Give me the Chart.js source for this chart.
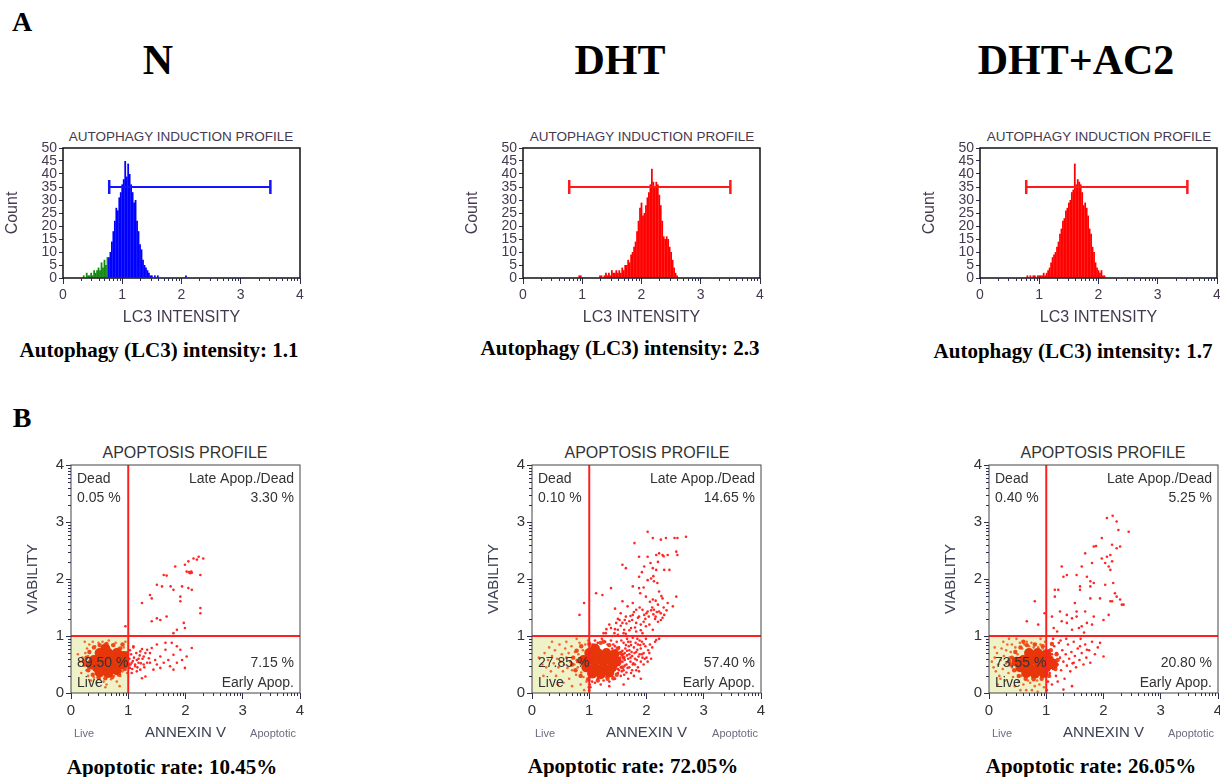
<!DOCTYPE html>
<html>
<head>
<meta charset="utf-8">
<script src="https://cdn.jsdelivr.net/npm/chart.js@4.4.1/dist/chart.umd.min.js"></script>
<style>
  body { margin: 0; background: #fff; width: 1220px; height: 777px; position: relative; overflow: hidden; }
  canvas { position: absolute; }
  .t { position: absolute; transform: translate(-50%, -50%); line-height: 1; white-space: nowrap; }
  .serif { font-family: "Liberation Serif", "Times New Roman", serif; font-weight: bold; color: #000; }
  .sans { font-family: "Liberation Sans", Arial, sans-serif; }
  .htitle { font-size: 13.5px; color: #45394f; }
  .stitle { font-size: 16px; color: #333; }
  .small { font-size: 11px; color: #6b6b80; }
  .cap { font-size: 21px; }
</style>
</head>
<body>
<div class="t serif" style="left:22px;top:22px;font-size:28px">A</div>
<div class="t serif" style="left:22px;top:418px;font-size:28px">B</div>
<div class="t serif" style="left:158px;top:60px;font-size:42px">N</div>
<div class="t serif" style="left:620px;top:60px;font-size:42px">DHT</div>
<div class="t serif" style="left:1076px;top:60px;font-size:42px">DHT+AC2</div>

<div class="t sans htitle" style="left:181px;top:137px">AUTOPHAGY INDUCTION PROFILE</div>
<div class="t sans htitle" style="left:642px;top:137px">AUTOPHAGY INDUCTION PROFILE</div>
<div class="t sans htitle" style="left:1099px;top:137px">AUTOPHAGY INDUCTION PROFILE</div>

<canvas id="histN" width="305" height="188" style="left:3px;top:140px"></canvas>
<canvas id="histDHT" width="305" height="188" style="left:463px;top:140px"></canvas>
<canvas id="histAC2" width="305" height="188" style="left:920px;top:140px"></canvas>

<div class="t serif cap" id="capHistN" style="left:159px;top:350px"></div>
<div class="t serif cap" id="capHistDHT" style="left:620px;top:348px"></div>
<div class="t serif cap" id="capHistAC2" style="left:1073px;top:351px"></div>

<div class="t sans stitle" style="left:185px;top:453px">APOPTOSIS PROFILE</div>
<div class="t sans stitle" style="left:647px;top:453px">APOPTOSIS PROFILE</div>
<div class="t sans stitle" style="left:1103px;top:453px">APOPTOSIS PROFILE</div>

<canvas id="scatN" width="284" height="288" style="left:24px;top:455px"></canvas>
<canvas id="scatDHT" width="284" height="288" style="left:485px;top:455px"></canvas>
<canvas id="scatAC2" width="284" height="288" style="left:942px;top:455px"></canvas>

<div class="t sans small" style="left:84px;top:733px">Live</div>
<div class="t sans small" style="left:273px;top:733px">Apoptotic</div>
<div class="t sans small" style="left:545px;top:733px">Live</div>
<div class="t sans small" style="left:735px;top:733px">Apoptotic</div>
<div class="t sans small" style="left:1002px;top:733px">Live</div>
<div class="t sans small" style="left:1191px;top:733px">Apoptotic</div>

<div class="t serif cap" id="capScatN" style="left:172px;top:767px"></div>
<div class="t serif cap" id="capScatDHT" style="left:633px;top:766px"></div>
<div class="t serif cap" id="capScatAC2" style="left:1091px;top:766px"></div>

<script>
const sans = "'Liberation Sans', Arial, sans-serif"
const histText = "#45394f"
const scatText = "#333333"
const tickColor = "#2b2f55"

// LC3 histograms, counts per 0.025 bin of intensity (log decades)
const binWidth = 0.025
const nGreenStart = 0.35
const nGreenCounts = [1, 0, 2, 1, 1, 2, 1, 3, 2, 3, 4, 3, 6, 4, 7, 5, 8]
const nBlueStart = 0.775
const nBlueCounts = [8, 10, 14, 18, 22, 27, 26, 31, 33, 36, 38, 45, 39, 44, 40, 36, 33, 29, 30, 22, 18, 13, 11, 7, 5, 4, 3, 2, 1, 1, 0, 1, 0, 1,
  0, 0, 0, 0, 0, 0, 0, 0, 0, 0, 0, 0, 0, 0, 0, 0, 0, 0, 1]
const dhtStart = 0.95
const dhtCounts = [1, 1, 0, 0, 0, 0, 0, 0, 0, 0, 0, 0, 0, 0,
  1, 1, 0, 1, 2, 1, 2, 1, 3, 2, 2, 3, 2, 3, 2, 4, 3, 5, 5, 7, 6, 9, 10, 12, 14, 18, 22, 27, 29, 24, 25, 28, 31, 33, 36, 42,
  37, 35, 37, 36, 32, 28, 22, 16, 15, 16, 15, 12, 10, 7, 4, 2, 1]
const ac2Start = 0.8
const ac2Counts = [1, 0, 1, 0, 1, 1, 0, 1, 1, 1, 1, 2, 1, 2, 3, 4, 6, 8, 9, 10, 12, 14, 17, 19, 22, 23, 26, 27, 29, 30, 33, 34, 44,
  36, 38, 37, 36, 33, 28, 29, 27, 24, 19, 17, 12, 10, 6, 4, 3, 2, 3, 1, 1]

// positive-region marker
const markerRange = [0.78, 3.5]
const markerLevel = 35
const lc3Intensity = { N: 1.1, DHT: 2.3, AC2: 1.7 }

// apoptosis quadrants: Dead, Late Apop./Dead, Live, Early Apop.
const quadrantGate = 1
const nPercents = [0.05, 3.30, 89.50, 7.15]
const dhtPercents = [0.10, 14.65, 27.85, 57.40]
const ac2Percents = [0.40, 5.25, 73.55, 20.80]

// events [annexin V, viability] (log decades)
const nCore = [[0.45, 0.45], [0.6, 0.45], [0.75, 0.45], [0.4, 0.58], [0.55, 0.58], [0.7, 0.58], [0.85, 0.58], [0.5, 0.7], [0.65, 0.7],
  [0.8, 0.7], [0.5, 0.36], [0.65, 0.35], [0.8, 0.4], [0.9, 0.5], [0.35, 0.5], [0.6, 0.78], [0.92, 0.65]]
const nRim = [[0.25, 0.5], [0.27, 0.62], [0.3, 0.4], [0.32, 0.72], [0.38, 0.32], [0.4, 0.8], [0.48, 0.27], [0.5, 0.84], [0.6, 0.26],
  [0.62, 0.86], [0.72, 0.28], [0.74, 0.84], [0.84, 0.32], [0.86, 0.78], [0.94, 0.42], [0.96, 0.58], [0.98, 0.7], [1.0, 0.5],
  [0.22, 0.56], [0.9, 0.85]]
const nLive = [[0.15, 0.55], [0.2, 0.62], [0.22, 0.48], [0.25, 0.7], [0.27, 0.4], [0.28, 0.78], [0.3, 0.3], [0.32, 0.85], [0.35, 0.22],
  [0.38, 0.9], [0.4, 0.27], [0.42, 0.82], [0.45, 0.18], [0.48, 0.88], [0.5, 0.25], [0.55, 0.9], [0.57, 0.2], [0.6, 0.85], [0.62, 0.15],
  [0.66, 0.92], [0.7, 0.24], [0.72, 0.84], [0.75, 0.3], [0.78, 0.88], [0.8, 0.2], [0.83, 0.78], [0.86, 0.3], [0.88, 0.72], [0.9, 0.38],
  [0.92, 0.8], [0.94, 0.62], [0.96, 0.45], [0.97, 0.7], [0.98, 0.35], [0.18, 0.35], [0.12, 0.68], [0.24, 0.9], [0.6, 0.1], [0.85, 0.12],
  [0.95, 0.9], [0.3, 0.65], [0.26, 0.55]]
const nApop = [[1.02, 0.6], [1.04, 0.5], [1.05, 0.68], [1.07, 0.42], [1.08, 0.56], [1.1, 0.62], [1.12, 0.5], [1.14, 0.7], [1.16, 0.45],
  [1.18, 0.6], [1.03, 0.75], [1.06, 0.35], [1.2, 0.66], [1.22, 0.52], [1.25, 0.6], [1.28, 0.45], [1.3, 0.7], [1.09, 0.8], [1.15, 0.38],
  [1.24, 0.77], [1.09, 0.82], [1.21, 0.73], [1.33, 0.76], [1.41, 0.79], [1.5, 0.85], [1.27, 0.64], [1.15, 0.58], [1.06, 0.53],
  [1.12, 0.47], [1.21, 0.41], [1.3, 0.29], [1.38, 0.53], [1.47, 0.58], [1.56, 0.64], [1.62, 0.53], [1.7, 0.58], [1.79, 0.67],
  [1.73, 0.47], [1.85, 0.53], [1.94, 0.58], [2.02, 0.64], [2.11, 0.79], [1.91, 0.76], [1.99, 0.44], [1.65, 0.88], [1.76, 0.88],
  [1.44, 0.41], [1.33, 0.53], [1.18, 0.53], [1.03, 0.44], [1.36, 0.61], [1.24, 0.26], [1.56, 0.44], [1.5, 0.5], [1.38, 0.7],
  [1.79, 0.41], [1.65, 0.76], [1.85, 0.82], [1.27, 0.5],
  [2.14, 2.36], [2.23, 2.39], [2.31, 2.36], [2.2, 2.34], [2.05, 2.31], [1.99, 2.25], [1.82, 2.22], [2.02, 2.13], [2.08, 2.1],
  [2.11, 2.11], [2.06, 2.12], [2.1, 2.13], [2.26, 2.07], [1.62, 2.07], [1.67, 2.06], [1.5, 1.9], [1.59, 1.87], [1.74, 1.87],
  [1.79, 1.81], [1.94, 1.87], [2.05, 1.84], [2.11, 1.81], [1.38, 1.72], [1.41, 1.66], [1.91, 1.69], [1.24, 1.58], [1.91, 1.61],
  [2.26, 1.49], [2.26, 1.4], [1.5, 1.31], [1.56, 1.28], [1.67, 1.34], [1.41, 1.26], [1.97, 1.23], [1.99, 1.14], [1.79, 1.05],
  [1.85, 1.11], [0.95, 1.17]]

const dhtCore = [[0.95, 0.45], [1.1, 0.45], [1.25, 0.45], [1.4, 0.45], [0.9, 0.58], [1.05, 0.58], [1.2, 0.58], [1.35, 0.58], [1.0, 0.7],
  [1.15, 0.7], [1.3, 0.7], [1.05, 0.34], [1.2, 0.33], [1.35, 0.36], [1.48, 0.55], [1.44, 0.68], [1.1, 0.78]]
const dhtRim = [[0.7, 0.5], [0.72, 0.62], [0.76, 0.4], [0.78, 0.74], [0.85, 0.3], [0.86, 0.82], [0.98, 0.24], [1.0, 0.86], [1.15, 0.22],
  [1.2, 0.88], [1.32, 0.25], [1.35, 0.84], [1.48, 0.32], [1.5, 0.78], [1.58, 0.45], [1.6, 0.62], [1.25, 0.9], [0.8, 0.56], [1.55, 0.7],
  [1.42, 0.26]]
const dhtLive = [[0.12, 0.62], [0.18, 0.5], [0.22, 0.7], [0.25, 0.45], [0.28, 0.58], [0.3, 0.8], [0.33, 0.38], [0.35, 0.65], [0.38, 0.52],
  [0.4, 0.75], [0.42, 0.3], [0.44, 0.6], [0.46, 0.45], [0.48, 0.85], [0.5, 0.55], [0.52, 0.68], [0.54, 0.38], [0.56, 0.5], [0.58, 0.78],
  [0.6, 0.62], [0.62, 0.44], [0.64, 0.7], [0.65, 0.25], [0.67, 0.55], [0.69, 0.82], [0.7, 0.4], [0.72, 0.62], [0.74, 0.5], [0.75, 0.72],
  [0.77, 0.32], [0.78, 0.58], [0.8, 0.45], [0.81, 0.68], [0.83, 0.88], [0.84, 0.52], [0.86, 0.36], [0.87, 0.62], [0.89, 0.75],
  [0.9, 0.28], [0.92, 0.48], [0.93, 0.85], [0.95, 0.2], [0.96, 0.65], [0.97, 0.4], [0.98, 0.92], [0.55, 0.18], [0.7, 0.12],
  [0.85, 0.15], [0.45, 0.15], [0.6, 0.9], [0.35, 0.9], [0.2, 0.3], [0.78, 0.95], [0.91, 0.05], [0.99, 0.1]]
const dhtApop = [[1.0, 0.05], [1.01, 0.15], [1.0, 0.22],
  [1.02, 0.1], [1.05, 0.2], [1.1, 0.18], [1.15, 0.25], [1.2, 0.15], [1.25, 0.22], [1.3, 0.28], [1.35, 0.2], [1.4, 0.3], [1.45, 0.25],
  [1.5, 0.35], [1.55, 0.3], [1.6, 0.4], [1.65, 0.36], [1.7, 0.45], [1.75, 0.4], [1.8, 0.5], [1.85, 0.45], [1.9, 0.55], [1.95, 0.5],
  [2.0, 0.62], [2.05, 0.7], [1.55, 0.45], [1.58, 0.55], [1.6, 0.62], [1.62, 0.7], [1.65, 0.5], [1.68, 0.6], [1.7, 0.75], [1.72, 0.55],
  [1.75, 0.65], [1.78, 0.8], [1.8, 0.6], [1.82, 0.72], [1.85, 0.85], [1.88, 0.68], [1.9, 0.78], [1.92, 0.9], [1.95, 0.7], [1.98, 0.82],
  [1.52, 0.8], [1.55, 0.72], [1.48, 0.9], [1.42, 0.85], [1.38, 0.92], [1.6, 0.88], [1.66, 0.95], [1.72, 0.9], [1.76, 0.97], [1.84, 0.95],
  [1.5, 0.6], [1.53, 0.52], [1.57, 0.66], [1.63, 0.78], [1.46, 0.75], [1.44, 0.62], [1.32, 0.85], [1.28, 0.9], [1.22, 0.95], [1.15, 0.88],
  [1.1, 0.92], [1.06, 0.85], [2.02, 0.55], [2.08, 0.6], [1.87, 0.38], [1.78, 0.3], [1.68, 0.25], [1.35, 0.12], [1.6, 0.15], [1.9, 0.25],
  [2.1, 0.8], [2.15, 0.9], [2.22, 0.95], [1.99, 0.95],
  [1.52, 0.4], [1.57, 0.38], [1.62, 0.48], [1.67, 0.44], [1.72, 0.62], [1.77, 0.52], [1.83, 0.58], [1.86, 0.64], [1.93, 0.62],
  [1.66, 0.66], [1.7, 0.68], [1.74, 0.72], [1.79, 0.7], [1.84, 0.76], [1.89, 0.84], [1.95, 0.86], [1.58, 0.74], [1.64, 0.84],
  [1.69, 0.82], [1.73, 0.84], [1.81, 0.88], [1.88, 0.92], [1.54, 0.62], [1.59, 0.68], [1.47, 0.5], [1.5, 0.42], [1.61, 0.32],
  [1.73, 0.35], [1.82, 0.4], [1.97, 0.6], [2.03, 0.75], [1.45, 0.82], [1.4, 0.78], [1.56, 0.92], [1.68, 0.9], [1.76, 0.5],
  [1.92, 0.68], [2.06, 0.85], [1.62, 0.58], [1.66, 0.74],
  [2.02, 2.83], [2.11, 2.72], [2.25, 2.69], [2.34, 2.72], [2.49, 2.72], [2.54, 2.72], [2.69, 2.74], [1.79, 2.63], [1.87, 2.39],
  [2.02, 2.39], [2.17, 2.42], [2.22, 2.45], [2.28, 2.42], [2.37, 2.42], [2.52, 2.48], [2.54, 2.42], [1.58, 2.25], [1.64, 2.19],
  [1.96, 2.22], [2.11, 2.19], [2.17, 2.16], [2.31, 2.16], [2.4, 2.16], [1.87, 2.04], [2.08, 2.01], [2.13, 1.96], [2.19, 1.93],
  [1.38, 1.84], [1.12, 1.75], [1.23, 1.72], [1.76, 1.87], [1.87, 1.84], [1.89, 1.75], [2.22, 1.78], [1.99, 1.69], [2.11, 1.64],
  [2.28, 1.66], [2.37, 1.58], [2.52, 1.69], [2.46, 1.52], [1.58, 1.61], [1.67, 1.52], [1.76, 1.58], [1.82, 1.46], [1.93, 1.46],
  [2.02, 1.43], [2.13, 1.46], [2.22, 1.43], [2.31, 1.37], [2.16, 1.34], [2.25, 1.28], [2.04, 1.34], [1.96, 1.37], [1.87, 1.34],
  [1.76, 1.37], [1.64, 1.34], [1.53, 1.28], [1.47, 1.23], [1.58, 1.23], [1.7, 1.26], [1.82, 1.23], [1.9, 1.2], [1.99, 1.17],
  [2.11, 1.11], [1.38, 1.14], [1.5, 1.11], [1.61, 1.11], [1.73, 1.14], [1.82, 1.08], [1.93, 1.05], [1.29, 1.05], [1.44, 1.05],
  [1.64, 1.04], [2.17, 0.93], [0.91, 1.58], [0.83, 1.37],
  [1.4, 1.0], [1.45, 1.12], [1.5, 1.02], [1.55, 1.18], [1.6, 1.05], [1.65, 1.22], [1.7, 1.1], [1.75, 1.28], [1.8, 1.15], [1.85, 1.32],
  [1.9, 1.1], [1.95, 1.25], [2.0, 1.4], [2.05, 1.2], [2.1, 1.5], [2.15, 1.3], [2.2, 1.55], [2.25, 1.4], [2.3, 1.5], [2.35, 1.45],
  [2.18, 1.42], [2.08, 1.45], [2.12, 1.38], [2.28, 1.32], [2.2, 1.25], [1.98, 1.3], [1.88, 1.5], [1.78, 1.42], [1.72, 1.35],
  [1.62, 1.28], [1.55, 1.4], [1.5, 1.3], [1.45, 1.48], [1.35, 1.2], [1.3, 1.12], [1.25, 1.05], [2.06, 1.6], [2.16, 1.62], [2.26, 1.7],
  [1.95, 1.85], [2.02, 1.98], [2.12, 2.05], [2.2, 2.3], [2.3, 2.4], [2.07, 2.28], [1.92, 2.12]]

const ac2Core = [[0.55, 0.45], [0.7, 0.45], [0.85, 0.45], [1.0, 0.45], [0.6, 0.58], [0.75, 0.58], [0.9, 0.58], [1.05, 0.58], [0.7, 0.7],
  [0.85, 0.7], [1.0, 0.68], [0.65, 0.35], [0.8, 0.34], [0.95, 0.35], [1.12, 0.5], [0.48, 0.55]]
const ac2Rim = [[0.38, 0.5], [0.4, 0.62], [0.44, 0.4], [0.46, 0.72], [0.52, 0.3], [0.55, 0.8], [0.64, 0.25], [0.66, 0.84], [0.78, 0.24],
  [0.8, 0.85], [0.92, 0.25], [0.94, 0.82], [1.05, 0.3], [1.08, 0.75], [1.16, 0.42], [1.2, 0.58], [1.18, 0.68], [0.35, 0.56],
  [1.1, 0.86], [0.6, 0.9]]
const ac2Live = [[0.05, 0.55], [0.08, 0.45], [0.1, 0.62], [0.12, 0.38], [0.14, 0.7], [0.16, 0.5], [0.18, 0.3], [0.2, 0.58], [0.22, 0.78],
  [0.24, 0.42], [0.26, 0.65], [0.28, 0.22], [0.3, 0.52], [0.32, 0.85], [0.34, 0.35], [0.36, 0.62], [0.38, 0.72], [0.4, 0.45],
  [0.42, 0.28], [0.44, 0.58], [0.46, 0.8], [0.48, 0.4], [0.5, 0.68], [0.52, 0.2], [0.54, 0.88], [0.56, 0.3], [0.58, 0.78], [0.6, 0.15],
  [0.62, 0.85], [0.64, 0.25], [0.66, 0.9], [0.68, 0.22], [0.7, 0.82], [0.72, 0.18], [0.74, 0.88], [0.76, 0.26], [0.78, 0.8],
  [0.8, 0.12], [0.82, 0.86], [0.84, 0.22], [0.86, 0.8], [0.88, 0.15], [0.9, 0.85], [0.92, 0.25], [0.94, 0.78], [0.96, 0.1],
  [0.98, 0.9], [0.15, 0.15], [0.25, 0.9], [0.45, 0.12], [0.35, 0.95], [0.55, 0.05], [0.75, 0.05], [0.9, 0.95], [0.2, 0.25],
  [0.3, 0.75], [0.4, 0.85], [0.1, 0.8], [0.48, 0.95], [0.65, 0.05], [0.85, 0.02], [0.98, 0.5], [0.97, 0.3], [0.99, 0.7]]
const ac2Apop = [[1.02, 0.62], [1.04, 0.45], [1.05, 0.75], [1.06, 0.35], [1.08, 0.55], [1.1, 0.68], [1.12, 0.42], [1.14, 0.82],
  [1.15, 0.58], [1.17, 0.3], [1.18, 0.7], [1.2, 0.5], [1.22, 0.88], [1.24, 0.62], [1.26, 0.4], [1.28, 0.75], [1.3, 0.55], [1.32, 0.25],
  [1.34, 0.68], [1.36, 0.48], [1.38, 0.85], [1.4, 0.6], [1.42, 0.38], [1.44, 0.72], [1.46, 0.52], [1.48, 0.9], [1.5, 0.65], [1.52, 0.45],
  [1.55, 0.78], [1.58, 0.58], [1.6, 0.95], [1.62, 0.7], [1.65, 0.5], [1.68, 0.85], [1.7, 0.62], [1.75, 0.75], [1.8, 0.9], [1.85, 0.68],
  [1.9, 0.8], [1.94, 0.88], [2.0, 0.64], [1.77, 0.53], [1.71, 0.76], [1.59, 0.82], [1.48, 0.53], [1.45, 0.12], [1.3, 0.06], [1.1, 0.15],
  [1.2, 0.2], [1.03, 0.2], [1.01, 0.05], [1.25, 0.92], [1.35, 0.95], [1.12, 0.95],
  [2.06, 3.07], [2.16, 3.11], [2.23, 3.01], [2.26, 2.86], [2.44, 2.83], [1.97, 2.72], [1.83, 2.57], [1.87, 2.58], [2.15, 2.6],
  [2.23, 2.54], [2.29, 2.57], [1.68, 2.45], [1.97, 2.36], [2.06, 2.39], [2.12, 2.42], [2.15, 2.31], [1.62, 2.22], [1.8, 2.28],
  [2.03, 2.28], [2.09, 2.22], [2.12, 2.16], [1.27, 2.22], [1.3, 2.04], [1.36, 2.07], [1.53, 2.07], [1.71, 2.04], [1.77, 1.96],
  [1.83, 1.93], [1.59, 1.87], [2.03, 1.9], [2.17, 1.93], [1.15, 1.81], [1.21, 1.81], [1.59, 1.81], [1.77, 1.87], [2.2, 1.75],
  [2.23, 1.69], [0.8, 1.61], [1.15, 1.69], [1.5, 1.58], [1.77, 1.66], [1.94, 1.66], [2.12, 1.61], [2.15, 1.61], [2.29, 1.64],
  [2.32, 1.55], [1.24, 1.43], [1.36, 1.37], [1.53, 1.43], [1.68, 1.43], [1.83, 1.34], [2.09, 1.37], [2.35, 1.55], [0.97, 1.4],
  [1.1, 1.34], [1.45, 1.31], [1.53, 1.34], [1.27, 1.26], [1.36, 1.23], [1.62, 1.17], [1.71, 1.23], [1.8, 1.2], [1.13, 1.14],
  [1.19, 1.08], [1.45, 1.11], [1.57, 1.14], [1.66, 1.06], [2.0, 1.28], [0.86, 1.2], [0.66, 1.26]]

const minorFactors = [2, 3, 4, 5, 6, 7, 8, 9]

const frame = {
  id: "frame",
  afterDraw(chart, args, opts) {
    const { ctx, chartArea: a } = chart
    ctx.save()
    ctx.strokeStyle = opts.color
    ctx.lineWidth = opts.width
    ctx.strokeRect(a.left, a.top, a.right - a.left, a.bottom - a.top)
    ctx.restore()
  }
}

const minorTicks = {
  id: "minorTicks",
  afterDraw(chart, args, opts) {
    const { ctx, chartArea: a } = chart
    ctx.save()
    ctx.strokeStyle = tickColor
    ctx.lineWidth = 1
    ctx.beginPath()
    opts.axes.forEach(id => {
      const s = chart.scales[id]
      for (let d = 0; d < 4; d++) {
        minorFactors.forEach(k => {
          const p = Math.round(s.getPixelForValue(d + Math.log10(k))) + 0.5
          if (s.isHorizontal()) {
            ctx.moveTo(p, a.bottom)
            ctx.lineTo(p, a.bottom + opts.length)
          } else {
            ctx.moveTo(a.left, p)
            ctx.lineTo(a.left - opts.length, p)
          }
        })
      }
    })
    ctx.stroke()
    ctx.restore()
  }
}

const quadrants = {
  id: "quadrants",
  beforeDatasetsDraw(chart, args, opts) {
    const { ctx, chartArea: a, scales: { x, y } } = chart
    const gx = x.getPixelForValue(opts.gate)
    const gy = y.getPixelForValue(opts.gate)
    ctx.save()
    ctx.fillStyle = "#eef2c6"
    ctx.fillRect(a.left, gy, gx - a.left, a.bottom - gy)
    ctx.restore()
  },
  afterDatasetsDraw(chart, args, opts) {
    const { ctx, chartArea: a, scales: { x, y } } = chart
    const gx = x.getPixelForValue(opts.gate)
    const gy = y.getPixelForValue(opts.gate)
    ctx.save()
    ctx.strokeStyle = "#ff2020"
    ctx.lineWidth = 2
    ctx.beginPath()
    ctx.moveTo(gx, a.top)
    ctx.lineTo(gx, a.bottom)
    ctx.moveTo(a.left, gy)
    ctx.lineTo(a.right, gy)
    ctx.stroke()

    const pct = opts.percents.map(v => v.toFixed(2) + " %")
    ctx.fillStyle = scatText
    ctx.font = "14px " + sans
    ctx.textBaseline = "middle"
    ctx.textAlign = "left"
    ctx.fillText("Dead", a.left + 6, a.top + 14)
    ctx.fillText(pct[0], a.left + 6, a.top + 33)
    ctx.fillText(pct[2], a.left + 6, a.bottom - 30)
    ctx.fillText("Live", a.left + 6, a.bottom - 10)
    ctx.textAlign = "right"
    ctx.fillText("Late Apop./Dead", a.right - 6, a.top + 14)
    ctx.fillText(pct[1], a.right - 6, a.top + 33)
    ctx.fillText(pct[3], a.right - 6, a.bottom - 30)
    ctx.fillText("Early Apop.", a.right - 6, a.bottom - 10)
    ctx.restore()
  }
}

// keep the plot area where the layout padding puts it
const fixX = h => s => { s.height = h; s.paddingLeft = 0; s.paddingRight = 0 }
const fixY = w => s => { s.width = w; s.paddingTop = 0; s.paddingBottom = 0 }

const toBins = (start, counts) => counts.map((c, i) => ({ x: +(start + i * binWidth).toFixed(3), y: c }))

function barSet(start, counts, color) {
  return {
    type: "bar",
    data: toBins(start, counts),
    backgroundColor: color,
    borderWidth: 0,
    grouped: false,
    barPercentage: 1.2,
    categoryPercentage: 1
  }
}

function markerSet(color) {
  return {
    type: "line",
    data: [{ x: markerRange[0], y: markerLevel }, { x: markerRange[1], y: markerLevel }],
    borderColor: color,
    borderWidth: 2,
    pointStyle: "line",
    pointRotation: 90,
    pointRadius: 7,
    pointBorderWidth: 2.5,
    pointBorderColor: color
  }
}

function histChart(id, datasets) {
  new Chart(document.getElementById(id), {
    type: "bar",
    data: { datasets: datasets },
    plugins: [frame, minorTicks],
    options: {
      responsive: false,
      animation: false,
      events: [],
      layout: { autoPadding: false, padding: { top: 8, right: 8, left: 0, bottom: 0 } },
      scales: {
        x: {
          type: "linear", min: 0, max: 4, offset: false,
          afterFit: fixX(50),
          ticks: { stepSize: 1, autoSkip: false, maxRotation: 0, padding: 3, color: histText, font: { family: sans, size: 14 } },
          grid: { drawOnChartArea: false, offset: false, tickLength: 6, tickColor: tickColor },
          border: { display: false },
          title: { display: true, text: "LC3 INTENSITY", color: histText, font: { family: sans, size: 16 }, padding: { top: 0, bottom: 1 } }
        },
        y: {
          min: 0, max: 50,
          afterFit: fixY(60),
          ticks: { stepSize: 5, autoSkip: false, padding: 2, color: histText, font: { family: sans, size: 14 } },
          grid: { drawOnChartArea: false, tickLength: 4, tickColor: tickColor },
          border: { display: false },
          title: { display: true, text: "Count", color: histText, font: { family: sans, size: 16 }, padding: 0 }
        }
      },
      plugins: {
        legend: { display: false },
        tooltip: { enabled: false },
        frame: { color: "#111", width: 1.5 },
        minorTicks: { axes: ["x"], length: 3 }
      }
    }
  })
}

function scatterChart(id, core, rim, live, apop, percents) {
  const dot = (data, color, r) => ({ data: data, backgroundColor: color, borderWidth: 0, pointRadius: r, pointHoverRadius: r })
  new Chart(document.getElementById(id), {
    type: "scatter",
    data: {
      datasets: [dot(apop, "#ff2626", 1.3), dot(core, "#e6360a", 5), dot(rim, "#ec4a1c", 2.2), dot(live, "#f06a30", 1.3)]
    },
    plugins: [quadrants, frame, minorTicks],
    options: {
      responsive: false,
      animation: false,
      events: [],
      layout: { autoPadding: false, padding: { top: 10, right: 8, left: 0, bottom: 0 } },
      scales: {
        x: {
          type: "linear", min: 0, max: 4,
          afterFit: fixX(50),
          ticks: { stepSize: 1, autoSkip: false, maxRotation: 0, padding: 3, color: scatText, font: { family: sans, size: 15 } },
          grid: { drawOnChartArea: false, tickLength: 6, tickColor: tickColor },
          border: { display: false },
          title: { display: true, text: "ANNEXIN V", color: "#3b3f52", font: { family: sans, size: 15 }, padding: { top: 0, bottom: 1 } }
        },
        y: {
          type: "linear", min: 0, max: 4,
          afterFit: fixY(47),
          ticks: { stepSize: 1, autoSkip: false, padding: 2, color: scatText, font: { family: sans, size: 15 } },
          grid: { drawOnChartArea: false, tickLength: 5, tickColor: tickColor },
          border: { display: false },
          title: { display: true, text: "VIABILITY", color: "#3b3f52", font: { family: sans, size: 15 }, padding: 0 }
        }
      },
      plugins: {
        legend: { display: false },
        tooltip: { enabled: false },
        frame: { color: "#444", width: 1 },
        minorTicks: { axes: ["x", "y"], length: 3 },
        quadrants: { gate: quadrantGate, percents: percents }
      }
    }
  })
}

histChart("histN", [markerSet("#1414ff"), barSet(nBlueStart, nBlueCounts, "#0000ff"), barSet(nGreenStart, nGreenCounts, "#138a13")])
histChart("histDHT", [markerSet("#ff1a1a"), barSet(dhtStart, dhtCounts, "#ff0000")])
histChart("histAC2", [markerSet("#ff1a1a"), barSet(ac2Start, ac2Counts, "#ff0000")])

scatterChart("scatN", nCore, nRim, nLive, nApop, nPercents)
scatterChart("scatDHT", dhtCore, dhtRim, dhtLive, dhtApop, dhtPercents)
scatterChart("scatAC2", ac2Core, ac2Rim, ac2Live, ac2Apop, ac2Percents)

const rate = p => (p[1] + p[3]).toFixed(2)
document.getElementById("capHistN").textContent = "Autophagy (LC3) intensity: " + lc3Intensity.N
document.getElementById("capHistDHT").textContent = "Autophagy (LC3) intensity: " + lc3Intensity.DHT
document.getElementById("capHistAC2").textContent = "Autophagy (LC3) intensity: " + lc3Intensity.AC2
document.getElementById("capScatN").textContent = "Apoptotic rate: " + rate(nPercents) + "%"
document.getElementById("capScatDHT").textContent = "Apoptotic rate: " + rate(dhtPercents) + "%"
document.getElementById("capScatAC2").textContent = "Apoptotic rate: " + rate(ac2Percents) + "%"
</script>
</body>
</html>
